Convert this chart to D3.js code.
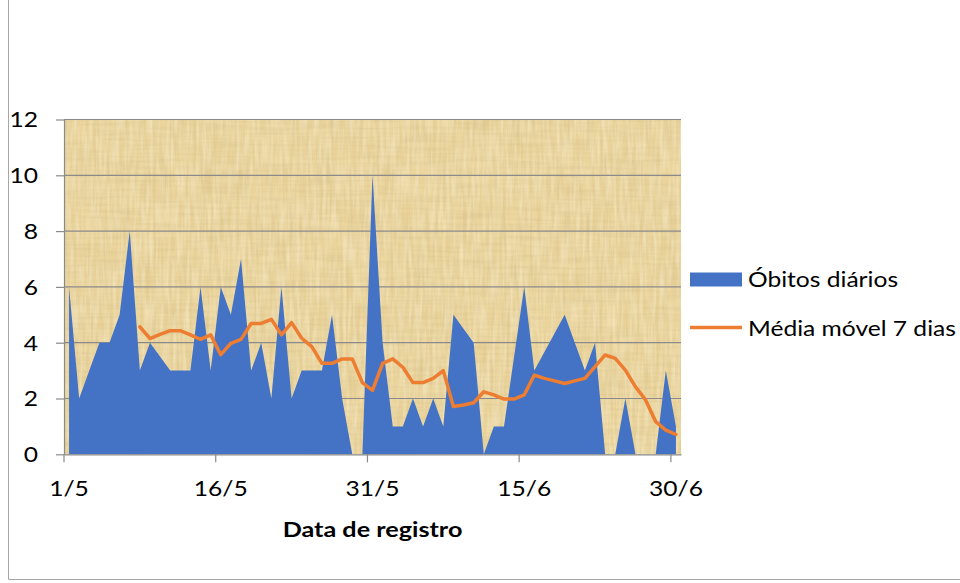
<!DOCTYPE html>
<html lang="pt">
<head>
<meta charset="utf-8">
<script src="https://cdn.jsdelivr.net/npm/d3@7"></script>
<style>
  html, body { margin: 0; padding: 0; background: #ffffff; }
  svg { display: block; }
  text { font-family: Lato, "Open Sans", "Noto Sans", sans-serif; fill: #000; }
</style>
</head>
<body>
<svg id="chart" width="960" height="583"></svg>
<script>
// Dias do período (1/5 a 30/6)
const dias = [
  "1/5","2/5","3/5","4/5","5/5","6/5","7/5","8/5","9/5","10/5",
  "11/5","12/5","13/5","14/5","15/5","16/5","17/5","18/5","19/5","20/5",
  "21/5","22/5","23/5","24/5","25/5","26/5","27/5","28/5","29/5","30/5",
  "31/5","1/6","2/6","3/6","4/6","5/6","6/6","7/6","8/6","9/6",
  "10/6","11/6","12/6","13/6","14/6","15/6","16/6","17/6","18/6","19/6",
  "20/6","21/6","22/6","23/6","24/6","25/6","26/6","27/6","28/6","29/6",
  "30/6"
];

// Óbitos diários (null = dia sem registro; a área liga os dias vizinhos)
const obitosDiarios = [
  6, 2, 3, 4, 4, 5, 8, 3, 4, null,
  3, 3, 3, 6, 3, 6, 5, 7, 3, 4,
  2, 6, 2, 3, 3, 3, 5, 2, 0, 0,
  10, 4, 1, 1, 2, 1, 2, 1, 5, null,
  4, 0, 1, 1, null, 6, 3, null, null, 5,
  4, 3, 4, 0, 0, 2, 0, 0, 0, 3,
  1
];

// Média móvel de 7 dias
const mediaMovel7 = [
  null, null, null, null, null, null, null, 4.57, 4.15, 4.30,
  4.43, 4.43, 4.28, 4.12, 4.28, 3.57, 3.98, 4.12, 4.69, 4.69,
  4.84, 4.28, 4.72, 4.16, 3.86, 3.26, 3.26, 3.42, 3.42, 2.57,
  2.29, 3.26, 3.42, 3.12, 2.57, 2.57, 2.72, 3.00, 1.71, 1.77,
  1.85, 2.24, 2.13, 1.98, 1.98, 2.13, 2.84, 2.72, 2.63, 2.54,
  2.63, 2.72, 3.14, 3.56, 3.44, 3.02, 2.42, 1.95, 1.17, 0.87,
  0.71
];

const rotulosX = ["1/5", "16/5", "31/5", "15/6", "30/6"];
const rotulosY = [0, 2, 4, 6, 8, 10, 12];
const nomesSeries = ["Óbitos diários", "Média móvel 7 dias"];
const tituloX = "Data de registro";

const COR_AREA = "#4472C4";
const COR_LINHA = "#ED7D31";
const COR_GRADE = "#8a8a8a";
const ESTICA = 1.2;      // largura horizontal do texto
const FONTE = 20.5;

const svg = d3.select("#chart");

// Moldura da área do gráfico
svg.append("path")
  .attr("d", "M8.5,0 V579.5 H960")
  .attr("fill", "none")
  .attr("stroke", "#a6a6a6")
  .attr("stroke-width", 1);

const plot = { left: 64, right: 681, top: 119.5, bottom: 454.3 };

const x = d3.scaleBand().domain(dias).range([plot.left, plot.right]).paddingInner(0).paddingOuter(0);
const bw = x.bandwidth();
const cx = d => x(d) + bw / 2;
const y = d3.scaleLinear().domain([0, 12]).range([plot.bottom, plot.top]);

// Textura de papiro do fundo: fibras verticais e horizontais cruzadas
const defs = svg.append("defs");
function fibras(id, freq, seed, cor, ganho, corte) {
  const f = defs.append("filter").attr("id", id)
    .attr("filterUnits", "userSpaceOnUse")
    .attr("x", plot.left).attr("y", plot.top)
    .attr("width", plot.right - plot.left).attr("height", plot.bottom - plot.top);
  f.append("feTurbulence").attr("type", "fractalNoise")
    .attr("baseFrequency", freq).attr("numOctaves", 2).attr("seed", seed);
  f.append("feColorMatrix").attr("type", "matrix")
    .attr("values", `0 0 0 0 ${cor[0]}  0 0 0 0 ${cor[1]}  0 0 0 0 ${cor[2]}  ${ganho} 0 0 0 ${corte}`);
}
fibras("fibrasV", "0.3 0.02", 3, [0.62, 0.48, 0.22], 1.6, -0.6);
fibras("fibrasH", "0.02 0.3", 7, [0.62, 0.48, 0.22], 1.6, -0.6);
fibras("claros", "0.3 0.03", 11, [1, 0.97, 0.86], 1.5, -0.55);

const fundo = svg.append("g");
const ret = () => fundo.append("rect")
  .attr("x", plot.left).attr("y", plot.top)
  .attr("width", plot.right - plot.left).attr("height", plot.bottom - plot.top);
ret().attr("fill", "#ecd69e");
ret().attr("fill", "#000").attr("filter", "url(#fibrasV)").attr("opacity", 0.45);
ret().attr("fill", "#000").attr("filter", "url(#fibrasH)").attr("opacity", 0.4);
ret().attr("fill", "#000").attr("filter", "url(#claros)").attr("opacity", 0.45);

// Linhas de grade horizontais
svg.append("g")
  .selectAll("line")
  .data(rotulosY.filter(v => v > 0))
  .join("line")
  .attr("x1", plot.left).attr("x2", plot.right)
  .attr("y1", d => y(d)).attr("y2", d => y(d))
  .attr("stroke", COR_GRADE).attr("stroke-width", 1.2);

// Área dos óbitos diários
const pontos = dias.map((d, i) => ({ d, v: obitosDiarios[i] })).filter(p => p.v != null);
svg.append("path")
  .datum(pontos)
  .attr("fill", COR_AREA)
  .attr("d", d3.area().x(p => cx(p.d)).y0(y(0)).y1(p => y(p.v)));

// Linha da média móvel
const media = dias.map((d, i) => ({ d, v: mediaMovel7[i] }));
svg.append("path")
  .datum(media)
  .attr("fill", "none")
  .attr("stroke", COR_LINHA)
  .attr("stroke-width", 3.5)
  .attr("stroke-linejoin", "round")
  .attr("stroke-linecap", "round")
  .attr("d", d3.line().defined(p => p.v != null).x(p => cx(p.d)).y(p => y(p.v)));

// Eixo Y
const eixoY = svg.append("g")
  .attr("transform", `translate(${plot.left},0)`)
  .call(d3.axisLeft(y).tickValues(rotulosY).tickSize(8).tickSizeOuter(0).tickFormat(d3.format("d")));
eixoY.select(".domain").attr("stroke", COR_GRADE).attr("stroke-width", 1.2);
eixoY.selectAll(".tick line").attr("stroke", COR_GRADE).attr("stroke-width", 1.2);
eixoY.selectAll(".tick text")
  .attr("font-size", FONTE)
  .attr("font-family", "Lato, 'Open Sans', sans-serif")
  .attr("fill", "#000")
  .attr("x", -26 / ESTICA)
  .attr("dy", "0.36em")
  .attr("transform", `scale(${ESTICA},1)`);

// Eixo X
const eixoX = svg.append("g")
  .attr("transform", `translate(0,${plot.bottom})`)
  .call(d3.axisBottom(x).tickValues(rotulosX).tickSize(8).tickSizeOuter(0));
eixoX.select(".domain").attr("stroke", COR_GRADE).attr("stroke-width", 1.2);
eixoX.selectAll(".tick line")
  .attr("x1", -bw / 2).attr("x2", -bw / 2)
  .attr("stroke", COR_GRADE).attr("stroke-width", 1.2);
eixoX.selectAll(".tick text")
  .attr("font-size", FONTE)
  .attr("font-family", "Lato, 'Open Sans', sans-serif")
  .attr("fill", "#000")
  .attr("y", 496.5 - plot.bottom)
  .attr("dy", 0)
  .attr("transform", `scale(${ESTICA},1)`);

// Título do eixo X
svg.append("text")
  .attr("transform", `translate(${(plot.left + plot.right) / 2},536.5) scale(${ESTICA},1)`)
  .attr("text-anchor", "middle")
  .attr("font-size", 21)
  .attr("font-weight", "bold")
  .text(tituloX);

// Legenda
const leg = svg.append("g");
leg.append("rect")
  .attr("x", 690).attr("y", 272.5).attr("width", 52).attr("height", 14)
  .attr("fill", COR_AREA);
leg.append("line")
  .attr("x1", 690).attr("x2", 742).attr("y1", 327.5).attr("y2", 327.5)
  .attr("stroke", COR_LINHA).attr("stroke-width", 3.5);
leg.selectAll("text.serie")
  .data(nomesSeries)
  .join("text")
  .attr("class", "serie")
  .attr("transform", (d, i) => `translate(748,${i === 0 ? 286.5 : 335.7}) scale(${ESTICA},1)`)
  .attr("font-size", FONTE)
  .text(d => d);
</script>
</body>
</html>
